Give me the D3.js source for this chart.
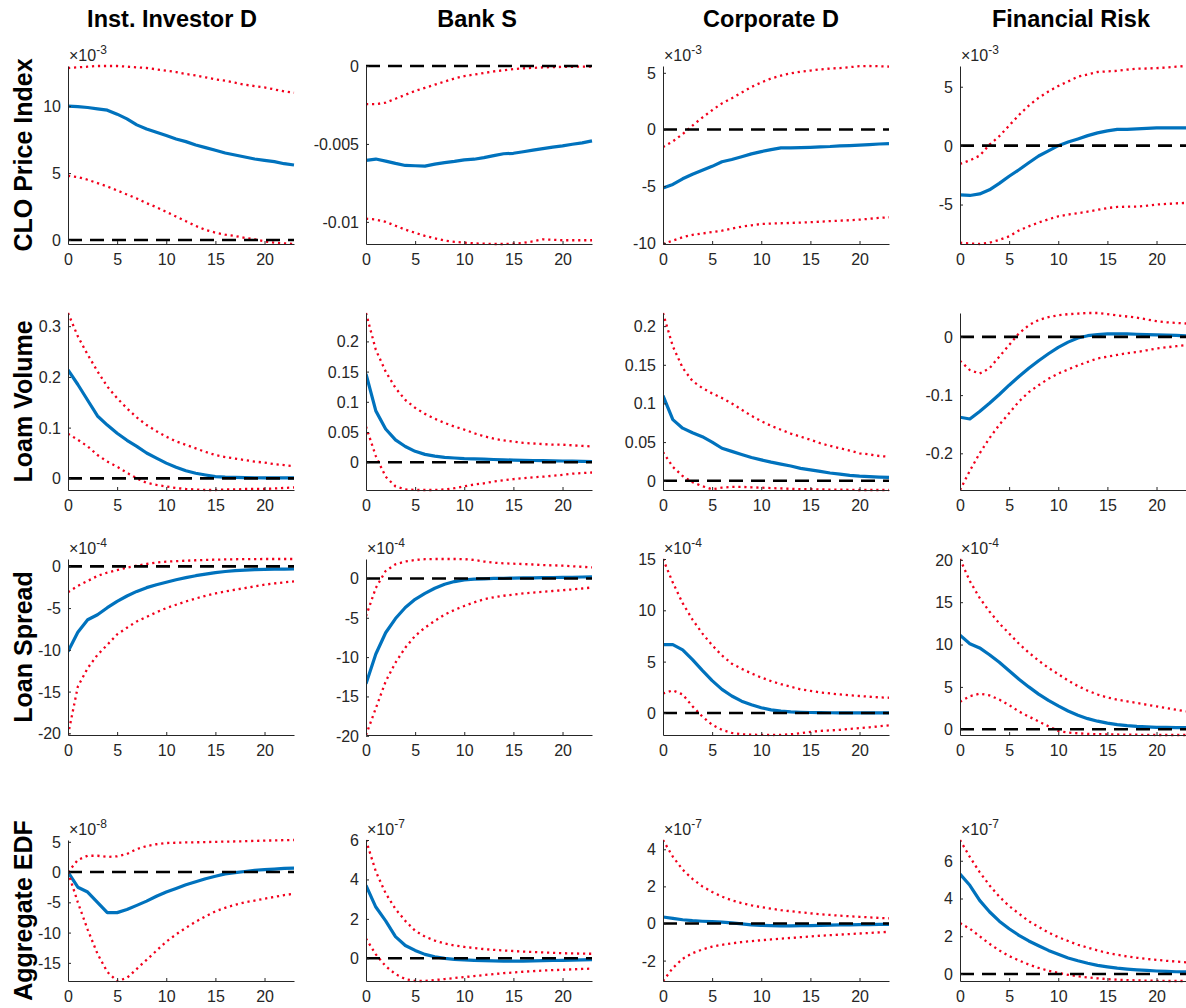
<!DOCTYPE html>
<html>
<head>
<meta charset="utf-8">
<script src="https://cdn.jsdelivr.net/npm/d3@7"></script>
<style>
  body { margin: 0; background: #fff; }
  svg text { font-family: "Liberation Sans", Arial, Helvetica, sans-serif; }
</style>
</head>
<body>
<svg id="fig" width="1186" height="1008"></svg>
<script>
// ---- Impulse responses: 24 periods, median (blue) with 90% bands (red) ----
const horizon = d3.range(24);
const shocks = ["Inst. Investor D", "Bank S", "Corporate D", "Financial Risk"];
const responses = ["CLO Price Index", "Loam Volume", "Loan Spread", "Aggregate EDF"];
const xTickValues = [0, 5, 10, 15, 20];

// Power-of-ten multipliers shown above each axis (0 = plain numbers)
const exponents = [
  [-3, 0, -3, -3],
  [0, 0, 0, 0],
  [-4, -4, -4, -4],
  [-8, -7, -7, -7]
];

// y tick labels per panel (in displayed units)
const yTickValues = [
  [[0, 5, 10], [-0.01, -0.005, 0], [-10, -5, 0, 5], [-5, 0, 5]],
  [[0, 0.1, 0.2, 0.3], [0, 0.05, 0.1, 0.15, 0.2], [0, 0.05, 0.1, 0.15, 0.2], [-0.2, -0.1, 0]],
  [[-20, -15, -10, -5, 0], [-20, -15, -10, -5, 0], [0, 5, 10, 15], [0, 5, 10, 15, 20]],
  [[-15, -10, -5, 0, 5], [0, 2, 4, 6], [-2, 0, 2, 4], [0, 2, 4, 6]]
];

// CLO Price Index
const cloInvMid = [10.0,9.97,9.9,9.8,9.7,9.4,9.05,8.6,8.3,8.05,7.8,7.55,7.35,7.1,6.9,6.7,6.5,6.35,6.2,6.05,5.95,5.85,5.7,5.6];
const cloInvHi  = [12.85,12.9,12.95,13.0,13.0,13.0,12.95,12.9,12.85,12.75,12.65,12.55,12.4,12.3,12.15,12.0,11.9,11.75,11.6,11.5,11.4,11.25,11.1,11.0];
const cloInvLo  = [4.8,4.7,4.5,4.25,4.0,3.7,3.4,3.1,2.75,2.45,2.1,1.75,1.4,1.05,0.75,0.55,0.4,0.3,0.15,0.05,-0.1,-0.2,-0.25,-0.3];

const cloBankMid = [-0.00605,-0.00597,-0.0061,-0.00625,-0.00638,-0.0064,-0.00642,-0.0063,-0.0062,-0.00612,-0.00602,-0.00598,-0.00588,-0.00575,-0.00563,-0.0056,-0.0055,-0.0054,-0.0053,-0.0052,-0.00512,-0.00502,-0.00493,-0.0048];
const cloBankHi  = [-0.00245,-0.00245,-0.00235,-0.0021,-0.00185,-0.0016,-0.0014,-0.0012,-0.001,-0.0008,-0.00065,-0.00055,-0.00045,-0.00035,-0.00027,-0.0002,-0.00015,-0.00012,-0.00009,-0.00007,-0.00006,-0.00005,-0.00004,-0.00004];
const cloBankLo  = [-0.0098,-0.00985,-0.01,-0.01025,-0.0105,-0.0107,-0.0109,-0.01105,-0.0112,-0.01128,-0.01133,-0.01138,-0.0114,-0.01142,-0.01142,-0.0114,-0.01135,-0.01125,-0.01112,-0.01115,-0.01118,-0.01118,-0.01118,-0.01118];

const cloCorpMid = [-5.15,-4.85,-4.35,-3.95,-3.6,-3.25,-2.85,-2.65,-2.4,-2.15,-1.95,-1.78,-1.62,-1.62,-1.6,-1.57,-1.53,-1.5,-1.45,-1.42,-1.38,-1.33,-1.28,-1.24];
const cloCorpHi  = [-1.55,-1.05,-0.4,0.35,1.05,1.7,2.3,2.75,3.25,3.75,4.15,4.5,4.75,4.95,5.1,5.2,5.3,5.38,5.42,5.5,5.58,5.6,5.58,5.55];
const cloCorpLo  = [-10.1,-9.8,-9.5,-9.3,-9.17,-9.05,-8.93,-8.75,-8.57,-8.45,-8.33,-8.3,-8.27,-8.24,-8.21,-8.18,-8.13,-8.08,-8.04,-8.0,-7.95,-7.88,-7.8,-7.74];

const cloRiskMid = [-4.18,-4.23,-4.1,-3.75,-3.2,-2.6,-2.05,-1.45,-0.88,-0.45,0.0,0.3,0.57,0.85,1.08,1.25,1.38,1.38,1.43,1.47,1.5,1.52,1.5,1.5];
const cloRiskHi  = [-1.55,-1.25,-0.85,0.08,0.8,1.7,2.6,3.4,4.06,4.6,5.06,5.45,5.85,6.05,6.25,6.3,6.35,6.45,6.53,6.55,6.58,6.63,6.7,6.76];
const cloRiskLo  = [-8.24,-8.3,-8.35,-8.24,-8.0,-7.7,-7.2,-6.85,-6.53,-6.25,-6.0,-5.85,-5.74,-5.6,-5.45,-5.3,-5.2,-5.18,-5.17,-5.1,-5.0,-4.95,-4.9,-4.86];

// Loan volume
const volInvMid = [0.214,0.185,0.154,0.123,0.105,0.089,0.075,0.063,0.05,0.04,0.03,0.022,0.015,0.01,0.0066,0.0035,0.0025,0.002,0.0015,0.0012,0.001,0.001,0.001,0.001];
const volInvHi  = [0.326,0.28,0.244,0.211,0.181,0.158,0.138,0.12,0.105,0.093,0.082,0.073,0.066,0.059,0.052,0.046,0.042,0.039,0.036,0.033,0.031,0.028,0.026,0.024];
const volInvLo  = [0.088,0.076,0.063,0.046,0.033,0.023,0.011,0.0,-0.009,-0.013,-0.016,-0.019,-0.021,-0.022,-0.023,-0.023,-0.022,-0.022,-0.021,-0.021,-0.021,-0.02,-0.019,-0.018];

const volBankMid = [0.146,0.085,0.055,0.037,0.026,0.018,0.013,0.01,0.008,0.007,0.006,0.0055,0.005,0.0045,0.004,0.0035,0.003,0.0028,0.0025,0.0022,0.002,0.0017,0.0014,0.0012];
const volBankHi  = [0.247,0.186,0.15,0.123,0.103,0.09,0.08,0.072,0.065,0.059,0.054,0.048,0.043,0.039,0.036,0.034,0.032,0.031,0.03,0.029,0.029,0.028,0.027,0.026];
const volBankLo  = [0.059,0.01,-0.024,-0.04,-0.045,-0.046,-0.046,-0.046,-0.045,-0.043,-0.04,-0.037,-0.035,-0.032,-0.03,-0.028,-0.0265,-0.025,-0.024,-0.0225,-0.021,-0.019,-0.018,-0.017];

const volCorpMid = [0.11,0.079,0.068,0.062,0.057,0.05,0.042,0.038,0.034,0.03,0.027,0.024,0.0215,0.019,0.016,0.014,0.012,0.01,0.0085,0.007,0.006,0.0053,0.0047,0.0043];
const volCorpHi  = [0.217,0.174,0.146,0.129,0.12,0.113,0.107,0.1,0.092,0.084,0.077,0.071,0.066,0.061,0.057,0.053,0.0485,0.045,0.042,0.039,0.0355,0.034,0.032,0.031];
const volCorpLo  = [0.037,0.018,0.006,-0.002,-0.007,-0.011,-0.009,-0.008,-0.008,-0.0085,-0.009,-0.0095,-0.01,-0.0105,-0.011,-0.011,-0.0112,-0.0115,-0.0115,-0.0118,-0.012,-0.012,-0.012,-0.012];

const volRiskMid = [-0.138,-0.141,-0.128,-0.114,-0.099,-0.083,-0.068,-0.054,-0.041,-0.029,-0.018,-0.009,-0.002,0.002,0.004,0.005,0.005,0.005,0.0045,0.004,0.0035,0.003,0.0025,0.0017];
const volRiskHi  = [-0.041,-0.057,-0.063,-0.054,-0.034,-0.014,0.006,0.02,0.029,0.034,0.037,0.039,0.04,0.041,0.041,0.039,0.037,0.035,0.033,0.03,0.027,0.025,0.024,0.023];
const volRiskLo  = [-0.263,-0.23,-0.2,-0.174,-0.151,-0.131,-0.111,-0.095,-0.083,-0.072,-0.063,-0.056,-0.049,-0.043,-0.037,-0.034,-0.031,-0.028,-0.026,-0.023,-0.02,-0.018,-0.016,-0.014];

// Loan spread
const sprInvMid = [-10.2,-7.9,-6.4,-5.8,-4.95,-4.2,-3.55,-3.0,-2.55,-2.2,-1.9,-1.6,-1.35,-1.12,-0.93,-0.75,-0.62,-0.52,-0.45,-0.4,-0.36,-0.34,-0.33,-0.32];
const sprInvHi  = [-3.1,-2.35,-1.75,-1.15,-0.75,-0.45,-0.15,0.08,0.28,0.45,0.56,0.62,0.68,0.73,0.77,0.8,0.83,0.85,0.86,0.87,0.88,0.88,0.88,0.88];
const sprInvLo  = [-20.2,-14.4,-12.2,-10.6,-9.4,-8.15,-7.35,-6.6,-6.05,-5.5,-5.0,-4.6,-4.2,-3.85,-3.53,-3.25,-3.0,-2.8,-2.6,-2.4,-2.2,-2.05,-1.92,-1.8];

const sprBankMid = [-13.4,-9.6,-6.9,-5.1,-3.7,-2.65,-1.9,-1.25,-0.75,-0.4,-0.18,-0.1,-0.05,0.0,0.02,0.04,0.06,0.08,0.1,0.12,0.13,0.15,0.18,0.2];
const sprBankHi  = [-4.8,-1.2,0.95,1.8,2.15,2.35,2.45,2.47,2.47,2.47,2.45,2.35,2.15,2.0,1.92,1.87,1.83,1.77,1.7,1.66,1.62,1.55,1.48,1.4];
const sprBankLo  = [-19.9,-16.5,-13.1,-10.7,-8.8,-7.3,-6.25,-5.4,-4.6,-4.0,-3.5,-3.05,-2.65,-2.4,-2.2,-2.05,-1.9,-1.8,-1.7,-1.6,-1.5,-1.4,-1.28,-1.15];

const sprCorpMid = [6.66,6.66,6.15,5.2,4.15,3.15,2.3,1.65,1.15,0.8,0.5,0.3,0.17,0.1,0.06,0.04,0.03,0.02,0.01,0.0,0.0,0.0,0.0,0.0];
const sprCorpHi  = [15.0,12.7,10.7,9.1,7.75,6.6,5.6,4.8,4.3,3.85,3.45,3.1,2.8,2.55,2.3,2.15,2.0,1.9,1.8,1.72,1.65,1.58,1.52,1.48];
const sprCorpLo  = [1.9,2.2,1.8,0.65,-0.35,-1.15,-1.65,-1.95,-2.08,-2.12,-2.14,-2.15,-2.14,-2.08,-1.98,-1.85,-1.75,-1.7,-1.65,-1.56,-1.48,-1.4,-1.3,-1.22];

const sprRiskMid = [11.1,10.1,9.6,8.8,7.9,6.9,5.9,5.0,4.15,3.4,2.75,2.15,1.65,1.25,0.95,0.72,0.55,0.42,0.33,0.27,0.23,0.21,0.2,0.2];
const sprRiskHi  = [20.1,17.5,15.5,13.9,12.5,11.3,10.1,9.05,8.1,7.25,6.5,5.75,5.1,4.55,4.1,3.75,3.5,3.3,3.1,2.9,2.7,2.5,2.3,2.1];
const sprRiskLo  = [3.25,3.9,4.2,4.0,3.5,2.85,2.1,1.5,0.92,0.35,-0.2,-0.4,-0.48,-0.55,-0.58,-0.6,-0.62,-0.64,-0.65,-0.66,-0.68,-0.68,-0.68,-0.68];

// Aggregate EDF
const edfInvMid = [0.0,-2.5,-3.3,-5.0,-6.7,-6.7,-6.2,-5.5,-4.8,-4.0,-3.3,-2.7,-2.1,-1.6,-1.1,-0.7,-0.3,-0.1,0.1,0.3,0.4,0.5,0.6,0.65];
const edfInvHi  = [0.0,2.0,2.7,2.7,2.5,2.6,3.0,3.8,4.3,4.6,4.8,4.85,4.9,4.92,4.95,5.0,5.03,5.06,5.1,5.15,5.2,5.23,5.27,5.3];
const edfInvLo  = [0.0,-5.0,-9.5,-13.5,-16.5,-18.0,-17.5,-16.0,-14.5,-13.0,-11.5,-10.3,-9.2,-8.2,-7.3,-6.5,-5.9,-5.4,-5.0,-4.7,-4.4,-4.1,-3.8,-3.6];

const edfBankMid = [3.7,2.6,1.9,1.1,0.65,0.4,0.2,0.08,0.0,-0.05,-0.08,-0.1,-0.12,-0.13,-0.14,-0.14,-0.14,-0.13,-0.12,-0.11,-0.1,-0.09,-0.08,-0.07];
const edfBankHi  = [6.0,4.4,3.3,2.5,1.9,1.4,1.1,0.9,0.75,0.65,0.58,0.52,0.47,0.43,0.4,0.37,0.34,0.32,0.3,0.28,0.26,0.25,0.24,0.23];
const edfBankLo  = [1.0,0.2,-0.4,-0.8,-1.05,-1.15,-1.15,-1.1,-1.05,-1.0,-0.95,-0.9,-0.85,-0.8,-0.75,-0.72,-0.68,-0.65,-0.62,-0.6,-0.58,-0.56,-0.54,-0.52];

const edfCorpMid = [0.35,0.28,0.2,0.15,0.12,0.1,0.07,0.03,-0.02,-0.07,-0.1,-0.12,-0.13,-0.13,-0.12,-0.11,-0.1,-0.09,-0.08,-0.07,-0.06,-0.06,-0.05,-0.05];
const edfCorpHi  = [4.5,3.6,2.9,2.4,2.0,1.7,1.45,1.25,1.1,0.98,0.88,0.8,0.72,0.66,0.6,0.55,0.5,0.46,0.42,0.39,0.36,0.33,0.3,0.28];
const edfCorpLo  = [-3.1,-2.4,-1.9,-1.6,-1.4,-1.25,-1.15,-1.07,-1.0,-0.95,-0.9,-0.86,-0.82,-0.78,-0.74,-0.7,-0.66,-0.63,-0.6,-0.57,-0.54,-0.51,-0.48,-0.45];

const edfRiskMid = [5.3,4.7,3.9,3.3,2.8,2.4,2.05,1.75,1.5,1.25,1.05,0.85,0.7,0.57,0.46,0.38,0.31,0.26,0.22,0.19,0.16,0.14,0.12,0.11];
const edfRiskHi  = [7.1,6.2,5.4,4.7,4.1,3.6,3.2,2.8,2.5,2.2,1.95,1.75,1.55,1.4,1.25,1.12,1.02,0.93,0.86,0.8,0.75,0.7,0.66,0.62];
const edfRiskLo  = [2.7,2.4,2.0,1.6,1.25,0.95,0.72,0.5,0.32,0.18,0.06,-0.04,-0.12,-0.18,-0.23,-0.27,-0.3,-0.32,-0.34,-0.35,-0.36,-0.37,-0.37,-0.37];

// Grid of panels: rows = responses, columns = shocks
const panels = [
  [[cloInvMid, cloInvLo, cloInvHi], [cloBankMid, cloBankLo, cloBankHi], [cloCorpMid, cloCorpLo, cloCorpHi], [cloRiskMid, cloRiskLo, cloRiskHi]],
  [[volInvMid, volInvLo, volInvHi], [volBankMid, volBankLo, volBankHi], [volCorpMid, volCorpLo, volCorpHi], [volRiskMid, volRiskLo, volRiskHi]],
  [[sprInvMid, sprInvLo, sprInvHi], [sprBankMid, sprBankLo, sprBankHi], [sprCorpMid, sprCorpLo, sprCorpHi], [sprRiskMid, sprRiskLo, sprRiskHi]],
  [[edfInvMid, edfInvLo, edfInvHi], [edfBankMid, edfBankLo, edfBankHi], [edfCorpMid, edfCorpLo, edfCorpHi], [edfRiskMid, edfRiskLo, edfRiskHi]]
];

// ---- Layout ----
const colLeft = [68, 366, 663, 960];
const plotWidth = 226;
const rowTop = [66, 313, 559, 840];
const rowHeight = [178, 177, 176, 141];
const titleX = [172, 477, 771, 1071];

const ink = "#262626";
const svg = d3.select("#fig");

// Column titles
svg.selectAll("text.col-title")
  .data(shocks)
  .join("text")
  .attr("class", "col-title")
  .attr("x", (d, i) => titleX[i])
  .attr("y", 27)
  .attr("text-anchor", "middle")
  .attr("font-size", 23.5)
  .attr("font-weight", "bold")
  .attr("fill", "#000")
  .text(d => d);

// Row labels
svg.selectAll("text.row-title")
  .data(responses)
  .join("text")
  .attr("class", "row-title")
  .attr("transform", (d, i) => `translate(32,${rowTop[i] + rowHeight[i] / 2}) rotate(-90)`)
  .attr("text-anchor", "middle")
  .attr("font-size", 25)
  .attr("font-weight", "bold")
  .attr("fill", "#000")
  .text(d => d);

const defs = svg.append("defs");

panels.forEach((row, r) => {
  row.forEach((series, c) => {
    const [mid, lo, hi] = series;
    const left = colLeft[c], top = rowTop[r], h = rowHeight[r];

    const x = d3.scaleLinear().domain([0, 23]).range([left, left + plotWidth]);
    const yExtent = d3.extent([...mid, ...lo, ...hi, 0]);
    const y = d3.scaleLinear().domain(yExtent).range([top + h, top]);

    const clipId = `clip-${r}-${c}`;
    defs.append("clipPath").attr("id", clipId)
      .append("rect")
      .attr("x", left).attr("y", top - 2)
      .attr("width", plotWidth + 1).attr("height", h + 4);

    const g = svg.append("g");
    const plot = g.append("g").attr("clip-path", `url(#${clipId})`);

    const line = d3.line()
      .x((d, i) => x(horizon[i]))
      .y(d => y(d));

    // median response
    plot.append("path")
      .datum(mid)
      .attr("d", line)
      .attr("fill", "none")
      .attr("stroke", "#0072BD")
      .attr("stroke-width", 3.2)
      .attr("stroke-linejoin", "round");

    // confidence bands
    [lo, hi].forEach(band => {
      plot.append("path")
        .datum(band)
        .attr("d", line)
        .attr("fill", "none")
        .attr("stroke", "#f2001c")
        .attr("stroke-width", 2.3)
        .attr("stroke-dasharray", "2.2 3.8");
    });

    // zero reference line
    plot.append("path")
      .datum(horizon.map(() => 0))
      .attr("d", line)
      .attr("fill", "none")
      .attr("stroke", "#000")
      .attr("stroke-width", 2.6)
      .attr("stroke-dasharray", "14 8");

    // axes
    const xAxis = g.append("g")
      .attr("transform", `translate(0,${top + h})`)
      .call(d3.axisBottom(x).tickValues(xTickValues).tickSize(-3).tickSizeOuter(0).tickPadding(10)
        .tickFormat(d => String(d)));
    const yAxis = g.append("g")
      .attr("transform", `translate(${left},0)`)
      .call(d3.axisLeft(y).tickValues(yTickValues[r][c]).tickSize(-3).tickSizeOuter(0).tickPadding(7)
        .tickFormat(d => String(d)));

    [xAxis, yAxis].forEach(ax => {
      ax.attr("color", ink).attr("font-size", null).attr("font-family", null);
      ax.select(".domain").attr("stroke-width", 1);
      ax.selectAll("text").attr("font-size", 16).attr("fill", ink);
    });
    yAxis.selectAll("text").attr("dy", "0.34em");

    // exponent multiplier
    const e = exponents[r][c];
    if (e !== 0) {
      const t = g.append("text")
        .attr("x", left + 1)
        .attr("y", top - 5)
        .attr("font-size", 16)
        .attr("fill", ink);
      t.append("tspan").text("\u00d710");
      t.append("tspan").attr("font-size", 12).attr("dy", -7).text(String(e));
    }
  });
});
</script>
</body>
</html>
